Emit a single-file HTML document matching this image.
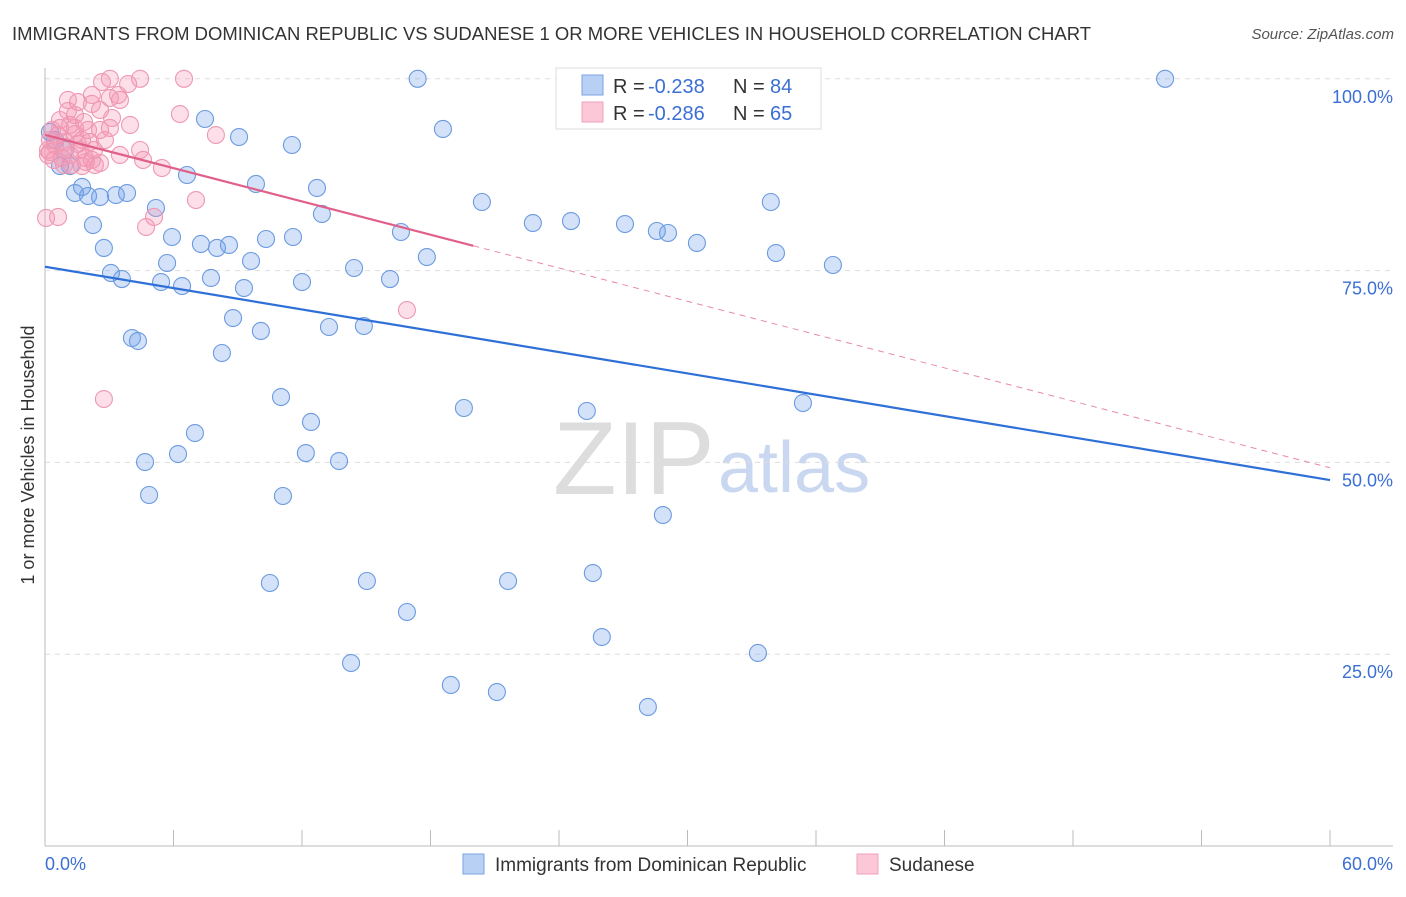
<!DOCTYPE html>
<html><head><meta charset="utf-8"><style>
body{margin:0;background:#fff;font-family:"Liberation Sans",sans-serif;}
svg text{font-family:"Liberation Sans",sans-serif;}
</style></head><body>
<svg id="chart" width="1406" height="892" xmlns="http://www.w3.org/2000/svg">
<text x="12" y="40" font-size="18" fill="#333" textLength="1079" lengthAdjust="spacingAndGlyphs">IMMIGRANTS FROM DOMINICAN REPUBLIC VS SUDANESE 1 OR MORE VEHICLES IN HOUSEHOLD CORRELATION CHART</text>
<text x="1394" y="39" font-size="15" fill="#555" font-style="italic" text-anchor="end">Source: ZipAtlas.com</text>
<text x="553" y="494" font-size="104" fill="#ddd" font-family="Liberation Serif, serif">ZIP</text>
<text x="718" y="492" font-size="72" fill="#c9d8f0">atlas</text>
<g id="grid"></g>
<g id="axes"></g>
<g id="pts"></g>
<g id="lines"></g>
<text transform="translate(34,455) rotate(-90)" font-size="18" fill="#333" text-anchor="middle">1 or more Vehicles in Household</text>
<text x="45" y="870" font-size="18" fill="#3b6fd4">0.0%</text>
<text x="1393" y="870" font-size="18" fill="#3b6fd4" text-anchor="end">60.0%</text>
<g>
<rect x="556" y="68" width="265" height="61" fill="#fff" stroke="#ddd"/>
<rect x="582" y="75" width="21" height="20" fill="#b8d0f4" stroke="#7aa3e6"/>
<rect x="582" y="102" width="21" height="20" fill="#fcc8d8" stroke="#f0a0b8"/>
<text y="93" font-size="20" fill="#333"><tspan x="613">R =</tspan><tspan x="648" fill="#3b6fd4">-0.238</tspan><tspan x="733">N =</tspan><tspan x="770" fill="#3b6fd4">84</tspan></text>
<text y="120" font-size="20" fill="#333"><tspan x="613">R =</tspan><tspan x="648" fill="#3b6fd4">-0.286</tspan><tspan x="733">N =</tspan><tspan x="770" fill="#3b6fd4">65</tspan></text>
</g>
<g><rect x="463" y="854" width="21" height="20" fill="#b8d0f4" stroke="#7aa3e6"/><text x="495" y="871" font-size="19" fill="#333">Immigrants from Dominican Republic</text></g>
<g><rect x="857" y="854" width="21" height="20" fill="#fcc8d8" stroke="#f0a0b8"/><text x="889" y="871" font-size="19" fill="#333">Sudanese</text></g>
</svg>
<script>
const yTicks=[25,50,75,100];
const blueX=[17.4,52.3,7.47,18.58,9.06,11.53,0.23,0.70,1.17,6.63,9.85,1.73,12.70,1.40,2.01,2.57,3.31,3.83,20.40,33.89,5.18,12.93,22.78,24.56,27.08,2.24,16.62,28.57,29.09,5.93,10.32,11.58,2.75,7.28,8.03,8.59,30.44,34.13,17.83,5.70,9.62,36.79,14.43,3.08,3.59,5.42,6.40,7.75,9.29,12.00,16.11,8.78,10.08,13.26,14.89,4.06,4.34,8.26,11.02,35.39,19.56,25.30,12.42,7.00,6.21,12.18,4.67,13.73,4.86,11.11,28.85,10.50,15.03,21.62,25.58,16.90,26.00,33.29,14.29,18.95,21.10,28.15,0.47,0.93];
const blueY=[100,100,94.76,93.46,92.41,91.37,93.07,88.63,88.63,87.46,86.29,85.90,85.77,85.11,84.72,84.59,84.85,85.11,83.94,83.94,83.16,82.38,81.20,81.46,81.07,80.94,80.03,80.16,79.90,79.38,79.12,79.38,77.95,78.47,77.95,78.34,78.60,77.29,76.77,75.99,76.25,75.73,75.34,74.69,73.90,73.51,72.99,74.04,72.73,73.51,73.90,68.82,67.13,67.65,67.78,66.21,65.82,64.26,58.52,57.74,57.09,56.70,55.27,53.83,51.09,51.22,50.05,50.18,45.75,45.62,43.14,34.28,34.54,34.54,35.58,30.50,27.24,25.16,23.85,20.99,20.07,18.12,92.02,90.72];
const pinkX=[2.66,3.03,4.44,6.49,3.88,3.50,1.07,2.19,2.57,6.30,1.54,1.82,3.03,7.98,0.61,1.40,0.93,2.10,0.23,0.47,0.79,1.87,2.57,3.50,4.58,5.46,2.33,1.26,1.63,1.17,0.14,0.33,0.70,2.01,2.57,3.13,7.05,5.09,4.72,0.05,0.61,16.90,2.75,1.40,0.98,0.42,1.73,2.19,1.40,1.17,0.70,2.80,2.19,3.03,1.07,0.23,0.14,0.89,1.73,2.29,1.91,1.54,3.41,3.97,4.44];
const pinkY=[99.58,100,100,100,99.32,97.24,95.80,96.72,95.93,95.41,96.97,94.37,93.59,92.67,92.67,93.59,91.76,91.76,90.46,91.37,89.68,89.68,89.03,90.07,89.42,88.37,88.76,88.76,90.72,90.07,90.72,93.33,94.63,93.33,93.33,94.89,84.20,81.99,80.68,81.86,81.99,69.86,58.26,92.80,91.11,89.42,88.63,89.42,95.28,93.98,93.59,92.02,97.89,97.50,97.24,92.02,90.07,88.76,92.02,90.72,89.16,91.50,97.89,93.98,90.72];
const blueTrend=[75.5,47.7];
const pinkTrend=[92.7,49.3];
const pinkSolidEnd=20;
const NS="http://www.w3.org/2000/svg";
const sx=v=>45+v*1285/60, sy=v=>846-v*7.672;
function mk(tag,attrs,parent){const e=document.createElementNS(NS,tag);for(const k in attrs)e.setAttribute(k,attrs[k]);document.getElementById(parent).appendChild(e);return e;}
yTicks.forEach(t=>{
 const l=mk('line',{x1:45,x2:1393,y1:sy(t),y2:sy(t),stroke:'#ddd','stroke-dasharray':'5,5'},'grid');
 
 
 const tx=mk('text',{x:1393,y:sy(t)+24,'font-size':18,fill:'#3b6fd4','text-anchor':'end'},'grid');
 tx.textContent=t.toFixed(1)+'%';
 
 
});
mk('line',{x1:45,x2:45,y1:68,y2:846,stroke:'#bbb'},'axes');
mk('line',{x1:45,x2:1393,y1:846,y2:846,stroke:'#bbb'},'axes');
for(let i=1;i<=10;i++){const x=sx(i*6);const t=mk('line',{x1:x,x2:x,y1:830,y2:846,stroke:'#bbb'},'axes');
 
 }
blueX.forEach((x,i)=>{const c=mk('circle',{cx:sx(x),cy:sy(blueY[i]),r:8.5,fill:'rgba(110,160,235,0.3)',stroke:'#6b9ae0','stroke-width':1.1},'pts');
 
 });
pinkX.forEach((x,i)=>{const c=mk('circle',{cx:sx(x),cy:sy(pinkY[i]),r:8.5,fill:'rgba(245,150,180,0.3)',stroke:'#ee98b2','stroke-width':1.1},'pts');
 
 });
const bl=mk('line',{x1:sx(0),y1:sy(blueTrend[0]),x2:sx(60),y2:sy(blueTrend[1]),stroke:'#2f6fd8','stroke-width':2.2},'lines');


const pAt=x=>pinkTrend[0]+(pinkTrend[1]-pinkTrend[0])*x/60;
const pl=mk('line',{x1:sx(0),y1:sy(pinkTrend[0]),x2:sx(pinkSolidEnd),y2:sy(pAt(pinkSolidEnd)),stroke:'#e0608a','stroke-width':2.2},'lines');


const pd=mk('line',{x1:sx(pinkSolidEnd),y1:sy(pAt(pinkSolidEnd)),x2:sx(60),y2:sy(pinkTrend[1]),stroke:'#e88aa8','stroke-width':1,'stroke-dasharray':'6,5'},'lines');


</script>
</body></html>
